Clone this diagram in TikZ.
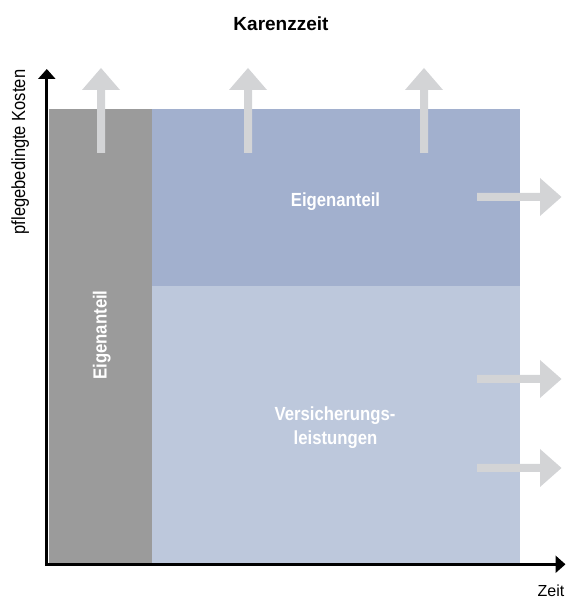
\documentclass[tikz,border=0pt]{standalone}
\usepackage{fontspec}
\setmainfont{Liberation Sans}
\newfontfamily\condfont[FakeStretch=0.88]{Liberation Sans}
\newfontfamily\ylabfont[FakeStretch=0.87]{Liberation Sans}
\usetikzlibrary{arrows.meta}
\definecolor{karenzgray}{HTML}{9B9B9B}
\definecolor{eigenblue}{HTML}{A2B0CE}
\definecolor{versblue}{HTML}{BDC8DC}
\definecolor{arrowgray}{HTML}{D3D4D6}
\tikzset{
  whitelabel/.style={text=white, inner sep=0pt, font=\condfont\bfseries\fontsize{19}{24}\selectfont},
  axisline/.style={line width=3pt, {Triangle[length=10pt,width=17pt]}-{Triangle[length=10pt,width=17pt]}},
  bigarrow/.style={fill=arrowgray, draw=none},
}
\newcommand{\uparrowshape}[1]{%
  \fill[bigarrow] (#1-4,447) -- (#1-4,510) -- (#1-19,510) -- (#1,532) -- (#1+19,510) -- (#1+4,510) -- (#1+4,447) -- cycle;}
\newcommand{\rightarrowshape}[1]{%
  \fill[bigarrow] (477,#1-4) -- (540,#1-4) -- (540,#1-19) -- (561.5,#1) -- (540,#1+19) -- (540,#1+4) -- (477,#1+4) -- cycle;}
\begin{document}
\begin{tikzpicture}[x=1pt,y=1pt]
  \useasboundingbox (0,0) rectangle (566,600);
  % areas
  \fill[karenzgray] (48.5,37.3) rectangle (152,491);
  \fill[eigenblue] (152,314) rectangle (520,491);
  \fill[versblue] (152,37.3) rectangle (520,314);
  % growth arrows
  \uparrowshape{101}
  \uparrowshape{248}
  \uparrowshape{424}
  \rightarrowshape{403}
  \rightarrowshape{221}
  \rightarrowshape{132}
  % axes
  \coordinate (ytip) at (46.8,531);
  \coordinate (origin) at (46.8,35.7);
  \coordinate (xtip) at (565.5,35.7);
  \draw[axisline] (ytip) -- (origin) -- (xtip);
  % texts
  \node[anchor=base, inner sep=0pt, font=\bfseries\fontsize{19}{23}\selectfont] (title) at (281,569) {Karenzzeit};
  \node[anchor=base, inner sep=0pt, rotate=90, font=\ylabfont\fontsize{19}{23}\selectfont] (ylabel) at (25,448) {pflegebedingte Kosten};
  \node[anchor=base, inner sep=0pt, font=\fontsize{16}{19}\selectfont] (xlabel) at (551,3) {Zeit};
  \node[whitelabel, anchor=base] (eigen1) at (335.5,393.3) {Eigenanteil};
  \node[whitelabel, anchor=base, rotate=90] (eigen2) at (106.7,265) {Eigenanteil};
  \node[whitelabel, anchor=base] (vers1) at (335,179) {Versicherungs-};
  \node[whitelabel, anchor=base] (vers2) at (335.5,155) {leistungen};
\end{tikzpicture}
\end{document}
